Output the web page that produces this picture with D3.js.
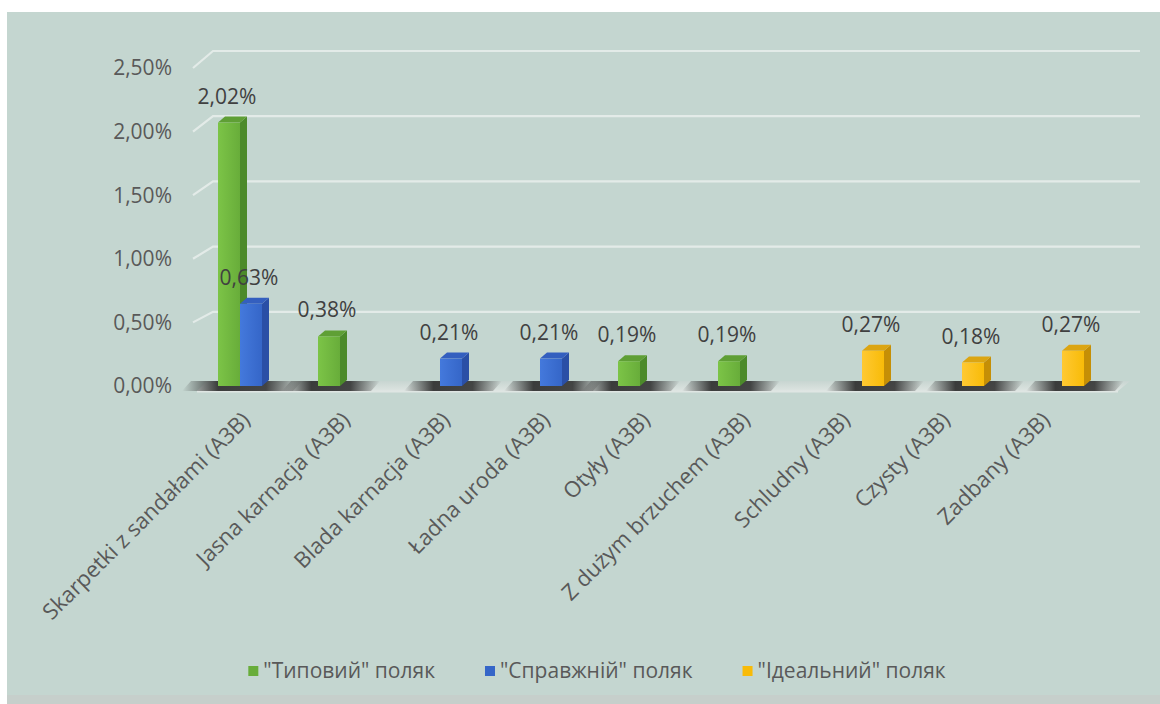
<!DOCTYPE html>
<html>
<head>
<meta charset="utf-8">
<script src="https://cdn.jsdelivr.net/npm/d3@7"></script>
<style>
  html, body { margin: 0; padding: 0; background: #ffffff; }
  svg { display: block; }
  text { font-family: "Open Sans", "Noto Sans", sans-serif; }
</style>
</head>
<body>
<svg id="chart" width="1160" height="704"></svg>
<script>
// Categories (x axis)
const categories = [
  "Skarpetki z sandałami (A3B)",
  "Jasna karnacja (A3B)",
  "Blada karnacja (A3B)",
  "Ładna uroda (A3B)",
  "Otyły (A3B)",
  "Z dużym brzuchem (A3B)",
  "Schludny (A3B)",
  "Czysty (A3B)",
  "Zadbany (A3B)"
];

// Series names (legend)
const seriesNames = ['"Типовий" поляк', '"Справжній" поляк', '"Ідеальний" поляк'];

// Series values, in percent (null = no bar)
const typowy    = [2.02, 0.38, null, null, 0.19, 0.19, null, null, null];
const prawdziwy = [0.63, null, 0.21, 0.21, null, null, null, null, null];
const idealny   = [null, null, null, null, null, null, 0.27, 0.18, 0.27];

// Value axis ticks
const yTicks = [0, 0.5, 1, 1.5, 2, 2.5];

const seriesValues = [typowy, prawdziwy, idealny];
const palette = [
  { front: ["#7cc447", "#68ad3a"], side: "#4c8a2a", top: "#5f9f35" },
  { front: ["#4479dc", "#3566c8"], side: "#2a4fa6", top: "#345fbf" },
  { front: ["#ffc933", "#f8bb08"], side: "#c58f06", top: "#dca512" }
];

const svg = d3.select("#chart");
const defs = svg.append("defs");

// chart background
svg.append("rect")
  .attr("x", 7).attr("y", 12).attr("width", 1153).attr("height", 683)
  .attr("fill", "#c4d6d0");
svg.append("rect")
  .attr("x", 7).attr("y", 695).attr("width", 1153).attr("height", 9)
  .attr("fill", "#c6cfcb");

// scales
const x = d3.scaleBand().domain(categories).range([200, 1100]).padding(0);
const xs = d3.scaleBand().domain(d3.range(3)).range([18, 84]).padding(0);
const y = d3.scaleLinear().domain([0, 2.5]).range([386, 60]);       // bars / back wall
const yAxis = d3.scaleLinear().domain([0, 2.5]).range([386, 68]);   // front axis labels

const depthX = 7, depthY = -6;     // bar depth
const wallX = 20, wallDy = -9;     // back wall offset
const frontLeft = 193, gridRight = 1140;

const fmt = v => d3.format(".2f")(v).replace(".", ",") + "%";

// back-wall gridlines with a slanted side-wall segment
const grid = svg.append("g").attr("class", "grid");
grid.selectAll("path")
  .data(yTicks.filter(t => t > 0))
  .join("path")
  .attr("d", t => `M${frontLeft},${yAxis(t)} L${frontLeft + wallX},${y(t) + wallDy} L${gridRight},${y(t) + wallDy}`)
  .attr("fill", "none")
  .attr("stroke", "#e3ebe8")
  .attr("stroke-width", 2.2);

// floor
const floorGrad = defs.append("linearGradient").attr("id", "floor")
  .attr("x1", 0).attr("x2", 0).attr("y1", 0).attr("y2", 1);
floorGrad.append("stop").attr("offset", 0).attr("stop-color", "#c8d5d1");
floorGrad.append("stop").attr("offset", 1).attr("stop-color", "#dde4e1");
svg.append("path")
  .attr("d", `M${frontLeft + 4},${391} L${frontLeft + wallX - 6},${y(0) + wallDy + 4} L${gridRight - 10},${y(0) + wallDy + 4} L${gridRight - 22},${391} Z`)
  .attr("fill", "url(#floor)");
svg.append("line")
  .attr("x1", frontLeft + 4).attr("x2", gridRight - 22)
  .attr("y1", 391.5).attr("y2", 391.5)
  .attr("stroke", "#dfe6e3").attr("stroke-width", 2);

// floor shadows under each category's bars
const shadowGrad = defs.append("linearGradient").attr("id", "shadow");
[[0, 0], [0.3, 0.9], [0.7, 0.85], [1, 0]].forEach(([o, a]) =>
  shadowGrad.append("stop").attr("offset", o).attr("stop-color", "#2a2a2a").attr("stop-opacity", a));

const clusters = categories.map((c, i) => {
  const idx = d3.range(3).filter(s => seriesValues[s][i] != null);
  return { c, x0: x(c) + xs(d3.min(idx)), x1: x(c) + xs(d3.max(idx)) + xs.bandwidth() };
});
svg.append("g").selectAll("path")
  .data(clusters)
  .join("path")
  .attr("d", d => `M${d.x0 - 36},391 L${d.x0 - 27},381 L${d.x1 + 40},381 L${d.x1 + 31},391 Z`)
  .attr("fill", "url(#shadow)");

// front-face gradients
palette.forEach((p, s) => {
  const g = defs.append("linearGradient").attr("id", "front" + s);
  g.append("stop").attr("offset", 0).attr("stop-color", p.front[0]);
  g.append("stop").attr("offset", 1).attr("stop-color", p.front[1]);
});

// 3D bars
const bars = [];
seriesValues.forEach((vals, s) => vals.forEach((v, i) => {
  if (v != null) bars.push({ s, v, c: categories[i] });
}));

const barG = svg.append("g").selectAll("g")
  .data(bars)
  .join("g");
const bw = xs.bandwidth();
barG.append("path")   // side
  .attr("d", d => {
    const x1 = x(d.c) + xs(d.s) + bw, yt = y(d.v), yb = y(0);
    return `M${x1},${yt} L${x1 + depthX},${yt + depthY} L${x1 + depthX},${yb + depthY} L${x1},${yb} Z`;
  })
  .attr("fill", d => palette[d.s].side);
barG.append("path")   // top
  .attr("d", d => {
    const x0 = x(d.c) + xs(d.s), yt = y(d.v);
    return `M${x0},${yt} L${x0 + depthX},${yt + depthY} L${x0 + bw + depthX},${yt + depthY} L${x0 + bw},${yt} Z`;
  })
  .attr("fill", d => palette[d.s].top);
barG.append("rect")   // front
  .attr("x", d => x(d.c) + xs(d.s))
  .attr("y", d => y(d.v))
  .attr("width", bw)
  .attr("height", d => y(0) - y(d.v))
  .attr("fill", d => `url(#front${d.s})`);

// value labels
svg.append("g").selectAll("text")
  .data(bars)
  .join("text")
  .attr("x", d => x(d.c) + xs(d.s) + bw / 2 - 2)
  .attr("y", d => y(d.v) + depthY - 13)
  .attr("text-anchor", "middle")
  .attr("font-size", 21)
  .attr("fill", "#404040")
  .text(d => fmt(d.v));

// value axis labels
svg.append("g").selectAll("text")
  .data(yTicks)
  .join("text")
  .attr("x", 172)
  .attr("y", t => yAxis(t))
  .attr("dy", "0.35em")
  .attr("text-anchor", "end")
  .attr("font-size", 21)
  .attr("fill", "#595959")
  .text(t => fmt(t));

// category labels, rotated
svg.append("g").selectAll("text")
  .data(categories)
  .join("text")
  .attr("transform", c => `translate(${x(c) + 46},${416}) rotate(-45)`)
  .attr("dy", "0.35em")
  .attr("text-anchor", "end")
  .attr("font-size", 22)
  .attr("fill", "#595959")
  .text(c => c);

// legend
const legend = svg.append("g");
const items = legend.selectAll("g")
  .data(seriesNames)
  .join("g");
items.append("rect")
  .attr("width", 10).attr("height", 10)
  .attr("y", -5)
  .attr("fill", (d, i) => palette[i].front[1]);
items.append("text")
  .attr("x", 15)
  .attr("dy", "0.35em")
  .attr("font-size", 21)
  .attr("fill", "#595959")
  .text(d => d);
const widths = items.nodes().map(n => d3.select(n).select("text").node().getComputedTextLength() + 15);
const gap = 50;
const total = d3.sum(widths) + gap * (widths.length - 1);
let cursor = 597 - total / 2;
items.attr("transform", (d, i) => {
  const t = `translate(${cursor},671)`;
  cursor += widths[i] + gap;
  return t;
});
</script>
</body>
</html>
